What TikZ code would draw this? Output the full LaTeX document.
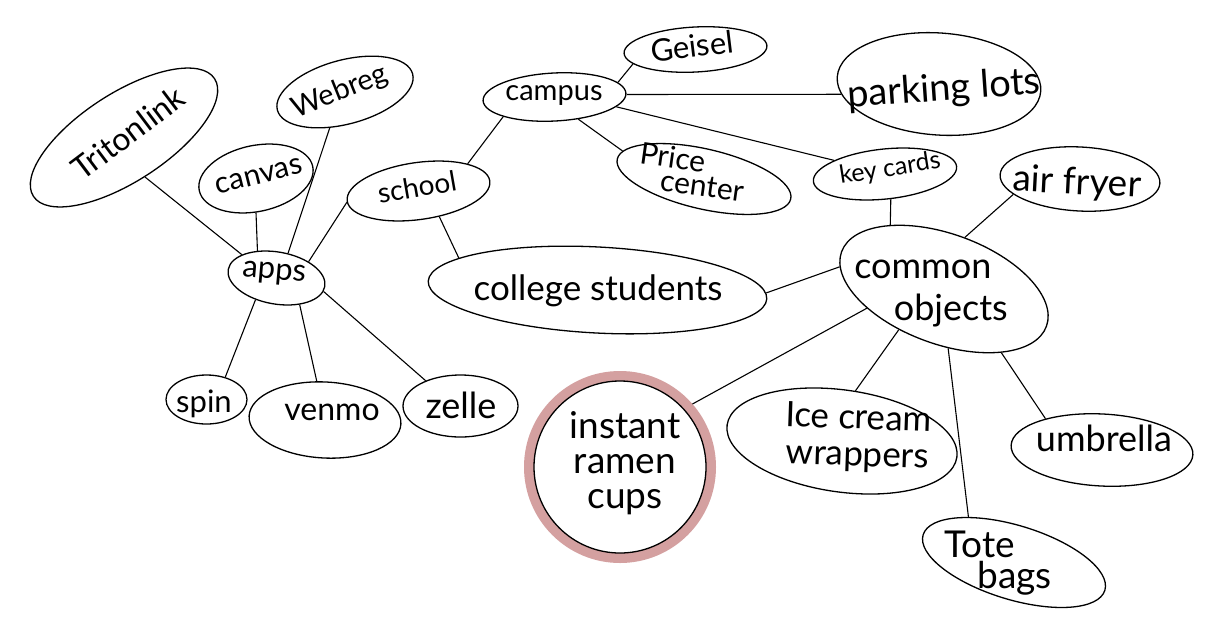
\documentclass[tikz,border=0pt]{standalone}
\usepackage{fontspec}
\setmainfont{Lato}
\usetikzlibrary{shapes.geometric}
\definecolor{ramenpink}{RGB}{212,160,160}
\newcommand\hsz[1]{\fontsize{#1}{#1}\selectfont}
\tikzset{
  bub/.style={draw=black, line width=1.3pt, ellipse, inner sep=0pt, fill=white},
  lbl/.style={inner sep=0pt, align=center, text=black},
  link/.style={draw=black, line width=1.1pt},
}
\begin{document}
\begin{tikzpicture}[x=1pt,y=-1pt]
\useasboundingbox[fill=white] (0,0) rectangle (1218,638);
% ellipses
\node[bub, minimum width=216, minimum height=88, rotate=33] (tl) at (124,137.5) {};
\node[bub, minimum width=140, minimum height=64, rotate=15] (wr) at (345,92) {};
\node[bub, minimum width=116, minimum height=66, rotate=12] (cv) at (256,178.5) {};
\node[bub, minimum width=98, minimum height=52, rotate=-10] (ap) at (276.5,278) {};
\node[bub, minimum width=144, minimum height=57, rotate=8] (sc) at (418.5,191) {};
\node[bub, minimum width=143, minimum height=48, rotate=3] (cp) at (554.5,97) {};
\node[bub, minimum width=143, minimum height=45, rotate=3] (gs) at (695.5,49.5) {};
\node[bub, minimum width=204, minimum height=102, rotate=-4] (pk) at (939,84) {};
\node[bub, minimum width=178, minimum height=60, rotate=-13] (pc) at (704,179) {};
\node[bub, minimum width=144, minimum height=50, rotate=6] (kc) at (885,174) {};
\node[bub, minimum width=160, minimum height=64, rotate=-3] (af) at (1080,179) {};
\node[bub, minimum width=339, minimum height=86, rotate=-3] (cs) at (597.5,290) {};
\node[bub, minimum width=218, minimum height=110, rotate=-20] (co) at (944,289) {};
\node[bub, minimum width=81, minimum height=49] (sp) at (206.5,399.5) {};
\node[bub, minimum width=152, minimum height=76, rotate=-3] (vm) at (325,420) {};
\node[bub, minimum width=115, minimum height=62] (ze) at (460.5,406) {};
\node[ellipse, draw=ramenpink, line width=10pt, inner sep=0pt, minimum width=182, minimum height=182, fill=white] (rm) at (620,467) {};
\node[bub, minimum width=172, minimum height=172, fill=none] (rmi) at (620,467) {};
\node[bub, minimum width=232, minimum height=102, rotate=-8] (ic) at (842,441) {};
\node[bub, minimum width=182, minimum height=72, rotate=-3] (um) at (1102,450) {};
\node[bub, minimum width=190, minimum height=74, rotate=-17] (tb) at (1014,562.5) {};
% connectors
\draw[link] (tl.265) -- (ap.156);
\draw[link] (cv.258) -- (ap.135);
\draw[link] (wr.232) -- (ap.75);
\draw[link] (sc.181) -- (ap.37);
\draw[link] (ap.236) -- (sp.50);
\draw[link] (ap.321) -- (vm.105);
\draw[link] (ap.354) -- (ze.144);
\draw[link] (sc.21) -- (cp.198);
\draw[link] (sc.301) -- (cs.170);
\draw[link] (cp.10) -- (gs.190);
\draw[link] (cp.359) -- (pk.190);
\draw[link] (cp.314) -- (pc.174);
\draw[link] (cp.348) -- (kc.159);
\draw[link] (kc.277) -- (co.150);
\draw[link] (af.196) -- (co.88);
\draw[link] (cs.2) -- (co.188);
\draw[link] (co.214) -- (rm.41);
\draw[link] (co.242) -- (ic.83);
\draw[link] (co.294) -- (tb.152);
\draw[link] (co.332) -- (um.154);
% labels
\node[lbl, font=\hsz{32}, rotate=37] (tl-t) at (128,133) {Tritonlink};
\node[lbl, font=\hsz{29}, rotate=22] (wr-t) at (340,92) {Webreg};
\node[lbl, font=\hsz{30}, rotate=14] (cv-t) at (259,176) {canvas};
\node[lbl, font=\hsz{31}, rotate=-5] (ap-t) at (274,274) {apps};
\node[lbl, font=\hsz{28}, rotate=10] (sc-t) at (417,187) {school};
\node[lbl, font=\hsz{29}] (cp-t) at (554,96) {campus};
\node[lbl, font=\hsz{31}, rotate=7] (gs-t) at (692,46) {Geisel};
\node[lbl, font=\hsz{38}, rotate=4] (pk-t) at (944,90) {parking lots};
\node[lbl, font=\hsz{30}, rotate=-8, align=left] (pc-t) at (692,172) {Price\\[-6pt]\hspace{0.8em}center};
\node[lbl, font=\hsz{25}, rotate=9] (kc-t) at (890,169) {key cards};
\node[lbl, font=\hsz{37}, rotate=-3] (af-t) at (1077,184) {air fryer};
\node[lbl, font=\hsz{35}] (cs-t) at (598,291) {college students};
\node[lbl, font=\hsz{36}, align=left] (co-t) at (931,294) {common\\[6pt]\hspace{1.1em}objects};
\node[lbl, font=\hsz{37}] (rm-t) at (625,463) {instant\\[-2pt]ramen\\[-2pt]cups};
\node[lbl, font=\hsz{35}, rotate=-2] (ic-t) at (858,438) {Ice cream\\[2pt]wrappers};
\node[lbl, font=\hsz{36}] (um-t) at (1104,438) {umbrella};
\node[lbl, font=\hsz{37}, align=left] (tb-t) at (998,563) {Tote\\[-6pt]\hspace{0.9em}bags};
\node[lbl, font=\hsz{31}] (sp-t) at (204,404) {spin};
\node[lbl, font=\hsz{32}] (vm-t) at (332,412) {venmo};
\node[lbl, font=\hsz{36}] (ze-t) at (461,405) {zelle};
\end{tikzpicture}
\end{document}
